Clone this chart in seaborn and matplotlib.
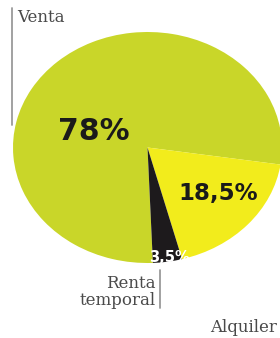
import matplotlib
matplotlib.use("Agg")
import matplotlib.pyplot as plt
import seaborn as sns
from matplotlib.lines import Line2D

# data
categories = ["Venta", "Alquiler", "Renta temporal"]
shares = [78, 18.5, 3.5]
pct_labels = ["78%", "18,5%", "3,5%"]
colors = ["#c9d629", "#f2ec1c", "#1d1a1c"]

sns.set_theme(style="white")
plt.rcParams["font.family"] = ["DejaVu Sans"]

W, H = 280, 338
fig = plt.figure(figsize=(W / 100, H / 100), dpi=100)
fig.patch.set_facecolor("white")


def fx(px):
    return px / W


def fy(py):
    return 1 - py / H


# the original pie is slightly stretched horizontally
ax = fig.add_axes([fx(13), fy(263), (282 - 13) / W, (263 - 32) / H])
ax.pie(shares, colors=colors, startangle=-87.7, counterclock=False,
       wedgeprops=dict(linewidth=0))
ax.set_aspect("auto")
ax.set_xlim(-1, 1)
ax.set_ylim(-1, 1)
ax.axis("off")

# percentages
fig.text(fx(94), fy(140), pct_labels[0], ha="center", va="baseline",
         fontsize=21.5, fontweight="heavy", color="#1a1a1a")
fig.text(fx(218), fy(200), pct_labels[1], ha="center", va="baseline",
         fontsize=16.5, fontweight="heavy", color="#1a1a1a")
fig.text(fx(169), fy(262), pct_labels[2], ha="center", va="baseline",
         fontsize=10.5, fontweight="heavy", color="white")

# category labels
lab = dict(family=["DejaVu Serif"], color="#4a4a4a", fontsize=12)
fig.text(fx(17), fy(22), categories[0], ha="left", va="baseline", **lab)
fig.text(fx(156), fy(288), "Renta", ha="right", va="baseline", **lab)
fig.text(fx(156), fy(305), "temporal", ha="right", va="baseline", **lab)
fig.text(fx(277), fy(332), categories[1], ha="right", va="baseline", **lab)

# leader lines
fig.add_artist(Line2D([fx(12), fx(12)], [fy(8), fy(125)], color="#9a9a9a", lw=1.3))
fig.add_artist(Line2D([fx(160), fx(160)], [fy(270), fy(308)], color="#9a9a9a", lw=1.3))

fig.savefig("out.png", dpi=100)
